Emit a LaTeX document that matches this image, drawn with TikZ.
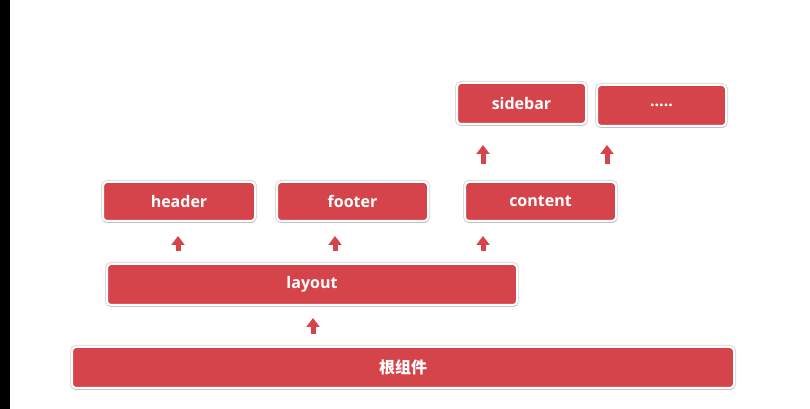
\documentclass[tikz,border=0pt]{standalone}
\usepackage{fontspec}
\setmainfont{Open Sans}
\newfontfamily\cjk{Noto Sans CJK SC}
\usepackage{tikz}
\usetikzlibrary{positioning, arrows.meta, shadows}
\definecolor{boxred}{RGB}{214,68,75}

\begin{document}
\begin{tikzpicture}[x=1pt,y=1pt,node distance=83pt,font=\bfseries\fontsize{16}{18}\selectfont]
    \tikzstyle{block} = [rectangle, rounded corners=4pt,
minimum height=41pt,
text centered,
inner sep=0pt,
fill=boxred, text=white,
draw=white, line width=2pt,
preaction={draw=black!14, line width=4pt},
drop shadow={shadow xshift=0.6pt, shadow yshift=-2pt, fill=black!30, opacity=0.6}]

\tikzstyle{arrow} = [line width=5pt, draw=boxred, -{Triangle[width=13pt,length=9pt]}]

\useasboundingbox (0,0) rectangle (810,409);
\fill [white] (0,0) rectangle (810,409);
\fill [black] (0,0) rectangle (10,409);

\node (root) [block, minimum width=662pt] at (403,41.5) {\cjk 根组件};
\node (layout) [block, minimum width=410pt, above of=root, xshift=-91pt] {layout};
\node (header) [block, minimum width=152pt, minimum height=39pt, above of=layout, xshift=-133pt] {header};
\node (footer) [block, minimum width=151pt, minimum height=39pt, right of=header, xshift=90.5pt] {footer};
\node (content) [block, minimum width=151pt, minimum height=39pt, right of=footer, xshift=105pt] {content};
\node (sidebar) [block, minimum width=129pt, above of=content, xshift=-19pt, yshift=15pt] {sidebar};
\node (more) [block, minimum width=129pt, right of=sidebar, xshift=57pt, yshift=-2pt] {.....};

\draw [arrow, shorten <=12pt, shorten >=12pt] ([xshift=1pt]layout.south |- root.north) -- ([xshift=1pt]layout.south);
\draw [arrow, shorten <=12pt, shorten >=14pt] ([xshift=-1pt]header.south |- layout.north) -- ([xshift=-1pt]header.south);
\draw [arrow, shorten <=12pt, shorten >=14pt] ([xshift=-17.5pt]footer.south |- layout.north) -- ([xshift=-17.5pt]footer.south);
\draw [arrow, shorten <=12pt, shorten >=14pt] ([xshift=-57.5pt]content.south |- layout.north) -- ([xshift=-57.5pt]content.south);
\draw [arrow, shorten <=17pt, shorten >=20pt] ([xshift=-38.5pt]sidebar.south |- content.north) -- ([xshift=-38.5pt]sidebar.south);
\draw [arrow, shorten <=17pt, shorten >=18pt] ([xshift=-54.5pt]more.south |- content.north) -- ([xshift=-54.5pt]more.south);

\end{tikzpicture}
\end{document}
